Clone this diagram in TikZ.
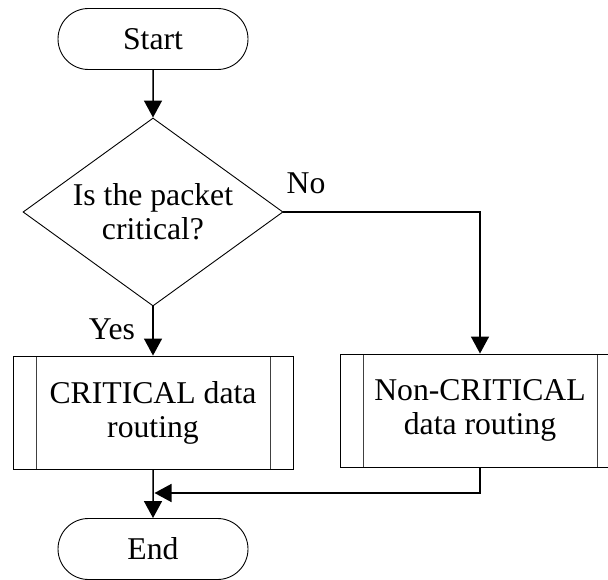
\documentclass[tikz,border=0pt]{standalone}
\usepackage{fontspec}
\setmainfont{Liberation Serif}
\usetikzlibrary{shapes.geometric,shapes.misc,arrows.meta}

\tikzset{
  terminal/.style={draw, rounded rectangle, line width=0.9pt, minimum width=190pt, minimum height=61pt, inner sep=0pt},
  decision/.style={draw, diamond, aspect=1.383, line width=0.9pt, minimum width=260pt, minimum height=188pt, inner sep=0pt, align=center},
  procbox/.style={draw, rectangle, line width=0.9pt, minimum width=280pt, minimum height=113pt, inner sep=0pt, align=center,
    path picture={
      \draw[line width=0.7pt, black!75] ([xshift=23pt]path picture bounding box.north west) -- ([xshift=23pt]path picture bounding box.south west);
      \draw[line width=0.7pt, black!75] ([xshift=-23pt]path picture bounding box.north east) -- ([xshift=-23pt]path picture bounding box.south east);
    }},
  arr/.style={-{Triangle[length=17pt, width=18pt]}, line width=1.5pt}
}

\begin{document}
\begin{tikzpicture}[x=1pt, y=-1pt, every node/.style={font=\fontsize{31.7pt}{34pt}\selectfont}]
  \clip (0,0) rectangle (608,580);
  \node[terminal] (start) at (153,39) {Start};
  \node[decision] (dec) at (153,212) {Is the packet\\critical?};
  \node[procbox] (crit) at (153,412.5) {CRITICAL data\\routing};
  \node[procbox] (noncrit) at (480,410.5) {Non-CRITICAL\\data routing};
  \node[terminal] (end) at (153,549) {End};
  \node (yes) at (112,329) {Yes};
  \node (no) at (306,183) {No};
  \coordinate (join) at (154.5,493);

  \draw[arr] (start) -- (dec);
  \draw[arr] (dec) -- (crit);
  \draw[arr] (dec.east) -| (noncrit.north);
  \draw[arr] (crit) -- (end);
  \draw[arr] (noncrit.south) |- (join);
\end{tikzpicture}
\end{document}
